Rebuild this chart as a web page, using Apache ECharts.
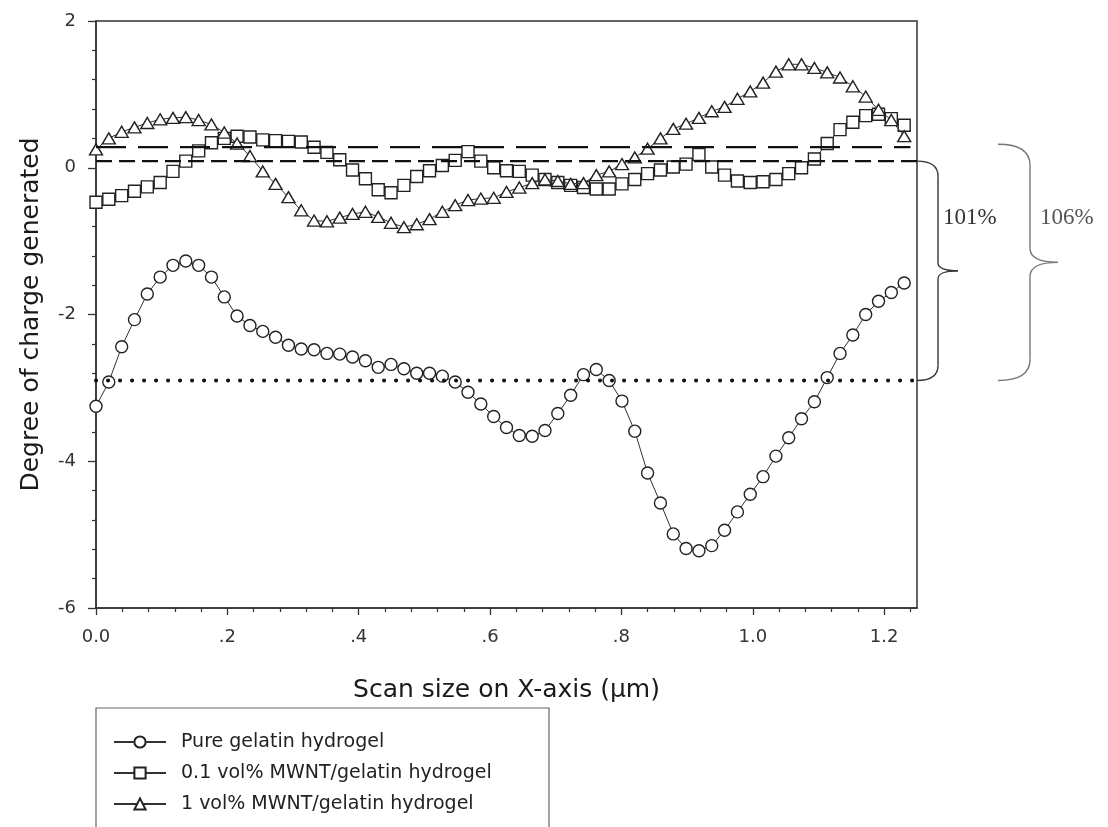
<!DOCTYPE html>
<html><head><meta charset="utf-8">
<script src="https://cdn.jsdelivr.net/npm/echarts@6/dist/echarts.min.js"></script>
<style>html,body{margin:0;padding:0;background:#fff}#c{width:1108px;height:827px}</style>
</head><body><div id="c"></div><script>
// ---- data ----
const xs = [0, 0.0195, 0.0391, 0.0586, 0.0781, 0.0977, 0.1172, 0.1367, 0.1563, 0.1758, 0.1953, 0.2148, 0.2344, 0.2539, 0.2734, 0.2930,
  0.3125, 0.3320, 0.3516, 0.3711, 0.3906, 0.4102, 0.4297, 0.4492, 0.4688, 0.4883, 0.5078, 0.5273, 0.5469, 0.5664, 0.5859, 0.6055,
  0.6250, 0.6445, 0.6641, 0.6836, 0.7031, 0.7227, 0.7422, 0.7617, 0.7813, 0.8008, 0.8203, 0.8398, 0.8594, 0.8789, 0.8984, 0.9180,
  0.9375, 0.9570, 0.9766, 0.9961, 1.0156, 1.0352, 1.0547, 1.0742, 1.0938, 1.1133, 1.1328, 1.1523, 1.1719, 1.1914, 1.2109, 1.2305];
const pureGelatin = [-3.25, -2.92, -2.44, -2.07, -1.72, -1.49, -1.33, -1.27, -1.33, -1.49, -1.76, -2.02, -2.15, -2.23, -2.31, -2.42,
  -2.47, -2.48, -2.53, -2.54, -2.58, -2.63, -2.72, -2.68, -2.74, -2.80, -2.80, -2.84, -2.92, -3.06, -3.22, -3.39,
  -3.54, -3.65, -3.66, -3.58, -3.35, -3.10, -2.82, -2.75, -2.90, -3.18, -3.59, -4.16, -4.57, -4.99, -5.19, -5.22,
  -5.15, -4.94, -4.69, -4.45, -4.21, -3.93, -3.68, -3.42, -3.19, -2.86, -2.53, -2.28, -2.00, -1.82, -1.70, -1.57];
const mwnt01 = [-0.47, -0.43, -0.38, -0.32, -0.26, -0.20, -0.05, 0.09, 0.23, 0.34, 0.40, 0.43, 0.42, 0.38, 0.37, 0.36,
  0.35, 0.28, 0.21, 0.11, -0.03, -0.15, -0.30, -0.34, -0.24, -0.12, -0.04, 0.03, 0.10, 0.22, 0.09, 0.00,
  -0.04, -0.05, -0.10, -0.16, -0.20, -0.24, -0.27, -0.29, -0.29, -0.22, -0.16, -0.08, -0.03, 0.01, 0.05, 0.18,
  0.01, -0.10, -0.18, -0.20, -0.19, -0.16, -0.08, 0.00, 0.12, 0.33, 0.52, 0.62, 0.71, 0.73, 0.67, 0.58];
const mwnt1 = [0.25, 0.40, 0.49, 0.55, 0.61, 0.66, 0.68, 0.69, 0.65, 0.59, 0.48, 0.33, 0.16, -0.05, -0.22, -0.40,
  -0.58, -0.72, -0.73, -0.68, -0.63, -0.60, -0.67, -0.75, -0.81, -0.77, -0.70, -0.60, -0.51, -0.44, -0.42, -0.41,
  -0.33, -0.27, -0.21, -0.16, -0.18, -0.22, -0.21, -0.10, -0.05, 0.05, 0.14, 0.26, 0.40, 0.53, 0.60, 0.68,
  0.77, 0.83, 0.94, 1.04, 1.16, 1.31, 1.41, 1.41, 1.36, 1.30, 1.23, 1.11, 0.97, 0.79, 0.65, 0.43];
const seriesNames = ['Pure gelatin hydrogel', '0.1 vol% MWNT/gelatin hydrogel', '1 vol% MWNT/gelatin hydrogel'];
const xTickValues = [0, 0.2, 0.4, 0.6, 0.8, 1.0, 1.2];
const xTickLabels = ['0.0', '.2', '.4', '.6', '.8', '1.0', '1.2'];
const yTickValues = [-6, -4, -2, 0, 2];
const yTickLabels = ['-6', '-4', '-2', '0', '2'];
const longDashLevel = 0.28;
const shortDashLevel = 0.09;
const dottedLevel = -2.9;
const longDashEnd = 1.24;
const xMin = 0, xMax = 1.25, yMin = -6, yMax = 2;
const annotLabels = ['101%', '106%'];
const xTitle = 'Scan size on X-axis (\u03bcm)';
const yTitle = 'Degree of charge generated';

// ---- chart ----
const pair = arr => xs.map((x, i) => [x, arr[i]]);
const minorX = [];
for (let k = 1; k <= 31; k++) { const v = +(k * 0.04).toFixed(2); if (Math.abs(v / 0.2 - Math.round(v / 0.2)) > 1e-6) minorX.push(v); }
const lookup = (vals, labs) => v => { const i = vals.findIndex(t => Math.abs(t - v) < 1e-6); return i < 0 ? '' : labs[i]; };
const ink = '#222';
const font = 'DejaVu Sans';
const mk = (name, arr, sym, size, z) => ({
  name, type: 'line', data: pair(arr), symbol: sym, symbolSize: size, z,
  itemStyle: { color: '#fff', borderColor: ink, borderWidth: 1.4 },
  lineStyle: { color: '#333', width: 1 }, emphasis: { disabled: true }, animation: false
});
const ref = (data, type, width, cap, z) => ({
  type: 'line', data, symbol: 'none', silent: true, z, animation: false,
  lineStyle: { color: '#111', width, type, cap }
});

const chart = echarts.init(document.getElementById('c'), null, { renderer: 'canvas' });
chart.setOption({
  backgroundColor: '#fff',
  animation: false,
  grid: { left: 96, top: 21, width: 821, height: 587, show: true, borderColor: '#333', borderWidth: 1.5, backgroundColor: 'transparent' },
  xAxis: [{
    type: 'value', min: xMin, max: xMax, interval: 0.2,
    axisLine: { onZero: false, lineStyle: { color: '#333', width: 1.5 } },
    axisTick: { show: true, length: 7, customValues: xTickValues, lineStyle: { color: '#333', width: 1.3 } },
    axisLabel: { customValues: xTickValues, formatter: lookup(xTickValues, xTickLabels), margin: 20, fontFamily: font, fontSize: 18, color: '#333' },
    splitLine: { show: false },
    name: xTitle, nameLocation: 'middle', nameGap: 70,
    nameTextStyle: { fontFamily: font, fontSize: 25, color: '#1a1a1a' }
  }, {
    type: 'value', min: xMin, max: xMax, position: 'bottom', gridIndex: 0,
    axisLine: { show: false, onZero: false }, axisLabel: { show: false }, splitLine: { show: false },
    axisTick: { show: true, length: 4, customValues: minorX, lineStyle: { color: '#333', width: 1.2 } }
  }],
  yAxis: {
    type: 'value', min: yMin, max: yMax, interval: 2,
    axisLine: { show: true, onZero: false, lineStyle: { color: '#333', width: 1.5 } },
    axisTick: { show: true, length: 8, lineStyle: { color: '#333', width: 1.3 } },
    minorTick: { show: true, splitNumber: 5, length: 4, lineStyle: { color: '#333', width: 1.2 } },
    axisLabel: { formatter: lookup(yTickValues, yTickLabels), margin: 20, fontFamily: font, fontSize: 18, color: '#333' },
    splitLine: { show: false },
    name: yTitle, nameLocation: 'middle', nameGap: 52,
    nameTextStyle: { fontFamily: font, fontSize: 25, color: '#1a1a1a' }
  },
  legend: {
    data: seriesNames, orient: 'vertical', left: 113, top: 732, padding: 0,
    itemWidth: 52, itemHeight: 14, itemGap: 11, selectedMode: false,
    textStyle: { fontFamily: font, fontSize: 19, color: '#222', lineHeight: 20, padding: [0, 0, 0, 10] }
  },
  series: [
    mk(seriesNames[0], pureGelatin, 'circle', 12, 3),
    mk(seriesNames[1], mwnt01, 'rect', 12, 4),
    mk(seriesNames[2], mwnt1, 'triangle', [13, 11], 5),
    ref([[xMin, longDashLevel], [longDashEnd, longDashLevel]], [30, 12], 2.2, 'butt', 6),
    ref([[xMin, shortDashLevel], [xMax, shortDashLevel]], [16, 7], 2.2, 'butt', 6),
    ref([[xMin, dottedLevel], [xMax, dottedLevel]], [0.1, 11.9], 4, 'round', 6)
  ]
});

// ---- annotations: braces computed from the axis scale ----
const py = v => chart.convertToPixel({ yAxisIndex: 0 }, v);
const px = v => chart.convertToPixel({ xAxisIndex: 0 }, v);
const xr = px(xMax);
function brace(xs0, xv, xt, y0, y1, r, t, color) {
  const ym = (y0 + y1) / 2;
  const st = { stroke: color, lineWidth: 1.4, fill: null };
  return [
    { type: 'bezierCurve', shape: { x1: xs0, y1: y0, x2: xv, y2: y0 + r, cpx1: xv, cpy1: y0 }, style: st },
    { type: 'line', shape: { x1: xv, y1: y0 + r, x2: xv, y2: ym - t }, style: st },
    { type: 'bezierCurve', shape: { x1: xv, y1: ym - t, x2: xt, y2: ym, cpx1: xv, cpy1: ym }, style: st },
    { type: 'bezierCurve', shape: { x1: xt, y1: ym, x2: xv, y2: ym + t, cpx1: xv, cpy1: ym }, style: st },
    { type: 'line', shape: { x1: xv, y1: ym + t, x2: xv, y2: y1 - r }, style: st },
    { type: 'bezierCurve', shape: { x1: xv, y1: y1 - r, x2: xs0, y2: y1, cpx1: xv, cpy1: y1 }, style: st }
  ];
}
const yS = py(shortDashLevel), yL = py(longDashLevel), yD = py(dottedLevel);
const b1 = brace(xr, xr + 21, xr + 41, yS, yD, 15, 8, '#333');
const b2 = brace(xr + 81, xr + 113, xr + 141, yL - 3, yD, 21, 14, '#777');
const texts = [
  { type: 'text', x: xr + 26, y: (yS + (yS + yD) / 2) / 2 + 2, style: { text: annotLabels[0], font: '23px "Liberation Serif"', fill: '#333', textVerticalAlign: 'middle' } },
  { type: 'text', x: xr + 123, y: (yS + (yS + yD) / 2) / 2 + 2, style: { text: annotLabels[1], font: '23px "Liberation Serif"', fill: '#555', textVerticalAlign: 'middle' } },
  { type: 'rect', shape: { x: 96, y: 708, width: 453, height: 200 }, style: { fill: null, stroke: '#666', lineWidth: 1.2 } }
];
chart.setOption({ graphic: b1.concat(b2, texts).map(g => Object.assign({ silent: true, z: 10 }, g)) });
</script></body></html>
